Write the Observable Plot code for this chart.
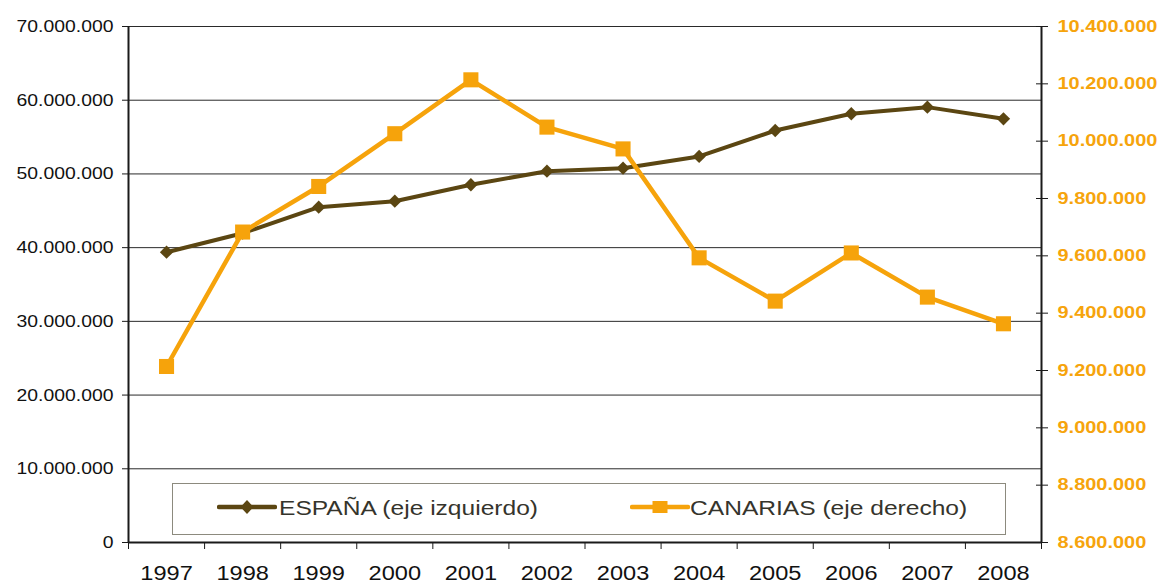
<!DOCTYPE html>
<html><head><meta charset="utf-8">
<script src="https://cdn.jsdelivr.net/npm/d3@7"></script>
<script src="https://cdn.jsdelivr.net/npm/@observablehq/plot@0.6"></script>
<style>
body{margin:0;background:#fff;}
#wrap{position:relative;width:1161px;height:584px;overflow:hidden;}
#legend{position:absolute;left:172px;top:483px;width:834px;height:52px;box-sizing:border-box;border:1.5px solid #8c8a7e;background:#fff;font-family:"Liberation Sans",Arial,sans-serif;font-size:21px;line-height:21px;color:#35342c;}
#legend svg{position:absolute;top:11px;}
#legend .lab{position:absolute;top:13px;white-space:nowrap;transform:scaleX(1.17);transform-origin:left center;}
</style></head><body>
<div id="wrap"><div id="chart"></div><div id="legend"></div></div>
<script>
// ---- data ----
const years = [1997, 1998, 1999, 2000, 2001, 2002, 2003, 2004, 2005, 2006, 2007, 2008];
const espana = [39380000, 41960000, 45490000, 46300000, 48530000, 50370000, 50780000, 52370000, 55890000, 58160000, 59060000, 57480000];
const canarias = [9214000, 9683000, 9842000, 10026000, 10214000, 10049000, 9973000, 9593000, 9442000, 9610000, 9456000, 9363000];
const leftTicks = [0, 10000000, 20000000, 30000000, 40000000, 50000000, 60000000, 70000000];
const rightTicks = [8600000, 8800000, 9000000, 9200000, 9400000, 9600000, 9800000, 10000000, 10200000, 10400000];
const seriesNames = ["ESPAÑA (eje izquierdo)", "CANARIAS (eje derecho)"];
const colors = ["#5B4612", "#F6A30B"];
const rightLabelColor = "#F6A40C";

// ---- scales helpers ----
const fmt = d3.formatLocale({decimal: ",", thousands: ".", grouping: [3], currency: ["", "€"]}).format(",d");
const leftDomain = [leftTicks[0], leftTicks[leftTicks.length - 1]];
const rightDomain = [rightTicks[0], rightTicks[rightTicks.length - 1]];
const r2l = d3.scaleLinear().domain(rightDomain).range(leftDomain);

const espData = years.map((y, i) => ({year: y, v: espana[i]}));
const canData = years.map((y, i) => ({year: y, v: r2l(canarias[i])}));
const xDomain = [years[0] - 0.5, years[years.length - 1] + 0.5];
const boundaries = years.map(y => y - 0.5).concat([years[years.length - 1] + 0.5]);

const chart = Plot.plot({
  width: 1161, height: 584,
  marginLeft: 128, marginRight: 120, marginTop: 26, marginBottom: 42,
  style: {fontFamily: '"Liberation Sans", Arial, sans-serif', background: "#fff", overflow: "visible", color: "#111"},
  x: {domain: xDomain, axis: null},
  y: {domain: leftDomain, axis: null},
  marks: [
    Plot.ruleY(leftTicks.slice(1), {stroke: "#2a2a2a", strokeWidth: 1}),
    // left axis
    Plot.axisY({anchor: "left", label: null, ticks: leftTicks, tickSize: 6, tickPadding: 9, tickFormat: fmt, fontSize: 17, stroke: "#1a1a1a", fill: "#111"}),
    // right axis ticks (crossing) and labels
    Plot.axisY(rightTicks.map(r2l), {anchor: "right", label: null, tickSize: 12, dx: -6, fill: "none", stroke: "#1a1a1a"}),
    Plot.axisY(rightTicks.map(r2l), {anchor: "right", label: null, tickSize: 6, tickPadding: 10, stroke: "none", fill: rightLabelColor, fontWeight: "bold", fontSize: 16.5, tickFormat: d => fmt(Math.round(r2l.invert(d)))}),
    // x axis
    Plot.axisX(boundaries, {anchor: "bottom", label: null, tickSize: 7, fill: "none", stroke: "#1a1a1a"}),
    Plot.axisX(years, {anchor: "bottom", label: null, tickSize: 0, tickPadding: 24, stroke: "none", fill: "#111", fontSize: 19.5, tickFormat: d => String(d)}),
    // frame
    Plot.ruleX([xDomain[0]], {stroke: "#1a1a1a", strokeWidth: 2}),
    Plot.ruleX([xDomain[1]], {stroke: "#1a1a1a", strokeWidth: 2}),
    Plot.ruleY([leftDomain[0]], {stroke: "#1a1a1a", strokeWidth: 2.2}),
    // series
    Plot.line(espData, {x: "year", y: "v", stroke: colors[0], strokeWidth: 4, strokeLinejoin: "round"}),
    Plot.dot(espData, {x: "year", y: "v", symbol: "diamond2", r: 6, fill: colors[0], stroke: "none"}),
    Plot.line(canData, {x: "year", y: "v", stroke: colors[1], strokeWidth: 4.5, strokeLinejoin: "round"}),
    Plot.dot(canData, {x: "year", y: "v", symbol: "square", r: 8.5, fill: colors[1], stroke: "none"})
  ]
});

// horizontal stretch of tick labels to match the reference proportions
chart.querySelectorAll("text").forEach(t => {
  const g = t.parentNode;
  const anchor = t.getAttribute("text-anchor") || (g && g.getAttribute && g.getAttribute("text-anchor")) || "start";
  const s = anchor === "end" ? 1.14 : anchor === "middle" ? 1.15 : 1.21;
  const x = +(t.getAttribute("x") || 0);
  const tr = t.getAttribute("transform") || "";
  t.setAttribute("transform", tr + (x ? ` translate(${x},0)` : "") + ` scale(${s},1)`);
  if (x) t.setAttribute("x", 0);
});
document.getElementById("chart").appendChild(chart);

// ---- legend ----
const legend = document.getElementById("legend");
const items = [
  {name: seriesNames[0], color: colors[0], sym: "diamond", svgLeft: 44, textLeft: 106},
  {name: seriesNames[1], color: colors[1], sym: "square", svgLeft: 457, textLeft: 517}
];
items.forEach(it => {
  const ns = "http://www.w3.org/2000/svg";
  const s = document.createElementNS(ns, "svg");
  s.setAttribute("width", 60); s.setAttribute("height", 26);
  s.style.left = it.svgLeft + "px";
  const l = document.createElementNS(ns, "line");
  l.setAttribute("x1", 2); l.setAttribute("x2", 58); l.setAttribute("y1", 12); l.setAttribute("y2", 12);
  l.setAttribute("stroke", it.color); l.setAttribute("stroke-width", 4.5); l.setAttribute("stroke-linecap", "round");
  s.appendChild(l);
  const m = document.createElementNS(ns, "path");
  if (it.sym === "diamond") m.setAttribute("d", "M30,5 L36.5,12 L30,19 L23.5,12 Z");
  else m.setAttribute("d", "M22.5,6 H37.5 V18 H22.5 Z");
  m.setAttribute("fill", it.color);
  s.appendChild(m);
  legend.appendChild(s);
  const sp = document.createElement("span");
  sp.className = "lab";
  sp.style.left = it.textLeft + "px";
  sp.textContent = it.name;
  legend.appendChild(sp);
});
</script>
</body></html>
